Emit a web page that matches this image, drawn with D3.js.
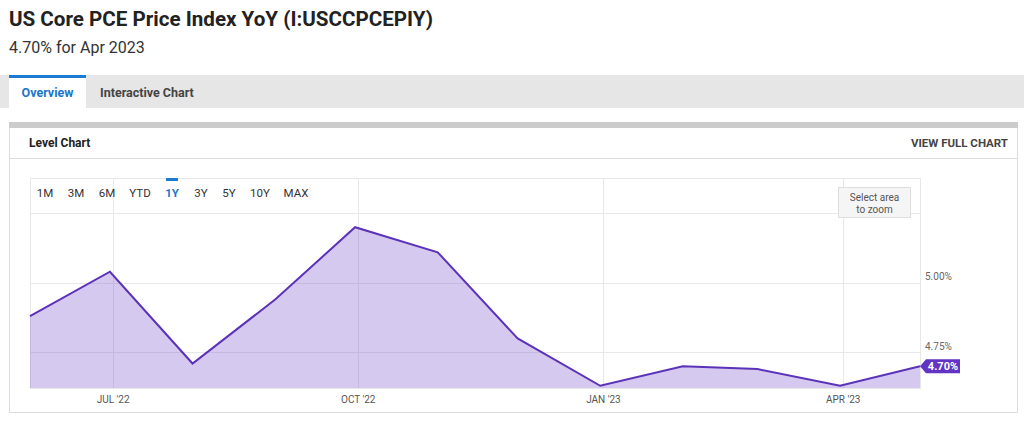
<!DOCTYPE html>
<meta charset="utf-8">
<script src="https://d3js.org/d3.v7.min.js"></script>
<style>
  body { margin: 0; background: #fff; }
  text { font-family: Roboto, "Noto Sans", sans-serif; }
</style>
<body>
<svg id="chart" width="1024" height="423"></svg>
<script>
// data: month-end observations, May 2022 - Apr 2023
var months = ["2022-05-31","2022-06-30","2022-07-31","2022-08-31","2022-09-30","2022-10-31",
              "2022-11-30","2022-12-31","2023-01-31","2023-02-28","2023-03-31","2023-04-30"];
var values = [4.88, 5.04, 4.71, 4.94, 5.20, 5.11, 4.80, 4.63, 4.70, 4.69, 4.63, 4.70];
var xTicks = ["2022-07-01","2022-10-01","2023-01-01","2023-04-01"];
var yTicks = [4.75, 5.00];
var yGrid = [4.75, 5.00, 5.25];
var ranges = ["1M","3M","6M","YTD","1Y","3Y","5Y","10Y","MAX"];

(function() {
var parse = d3.timeParse("%Y-%m-%d");
var data = months.map(function(m, i) { return {date: parse(m), value: values[i]}; });

var svg = d3.select("#chart");

// header
svg.append("text").attr("x", 9).attr("y", 26)
  .attr("font-size", 20.6).attr("font-weight", 700).attr("fill", "#222")
  .text("US Core PCE Price Index YoY (I:USCCPCEPIY)");
svg.append("text").attr("x", 9).attr("y", 53)
  .attr("font-size", 16).attr("fill", "#333")
  .text("4.70% for Apr 2023");

// tabs
svg.append("rect").attr("x", 0).attr("y", 75).attr("width", 1024).attr("height", 33).attr("fill", "#e6e6e6");
svg.append("rect").attr("x", 9).attr("y", 75).attr("width", 77).attr("height", 34).attr("fill", "#fff");
svg.append("rect").attr("x", 9).attr("y", 75).attr("width", 77).attr("height", 3).attr("fill", "#1b7bd0");
svg.append("text").attr("x", 47.5).attr("y", 97).attr("text-anchor", "middle")
  .attr("font-size", 12.5).attr("font-weight", 700).attr("fill", "#1b75c9").text("Overview");
svg.append("text").attr("x", 100).attr("y", 97)
  .attr("font-size", 12.5).attr("font-weight", 700).attr("fill", "#444").text("Interactive Chart");

// panel
svg.append("rect").attr("x", 9.5).attr("y", 124.5).attr("width", 1008).attr("height", 288)
  .attr("fill", "#fff").attr("stroke", "#dcdcdc");
svg.append("rect").attr("x", 9).attr("y", 122).attr("width", 1009).attr("height", 6).attr("fill", "#cccccc");
svg.append("text").attr("x", 29).attr("y", 147)
  .attr("font-size", 12).attr("font-weight", 700).attr("fill", "#222").text("Level Chart");
svg.append("text").attr("x", 1008).attr("y", 147).attr("text-anchor", "end")
  .attr("font-size", 11.5).attr("font-weight", 700).attr("fill", "#444").text("VIEW FULL CHART");
svg.append("line").attr("x1", 10).attr("x2", 1017).attr("y1", 158.5).attr("y2", 158.5).attr("stroke", "#dcdcdc");

// plot
var pLeft = 30, pRight = 920, pTop = 178, pBottom = 388;
var x = d3.scaleTime().domain(d3.extent(data, function(d) { return d.date; })).range([pLeft, pRight]);
var y = d3.scaleLinear().domain([4.622, 5.377]).range([pBottom, pTop]);

var g = svg.append("g");
g.append("rect").attr("x", pLeft + 0.5).attr("y", pTop + 0.5).attr("width", pRight - pLeft).attr("height", pBottom - pTop)
  .attr("fill", "none").attr("stroke", "#e8e8e8");

g.selectAll(".hgrid").data(yGrid).enter().append("line")
  .attr("x1", pLeft).attr("x2", pRight)
  .attr("y1", function(d) { return Math.round(y(d)) + 0.5; })
  .attr("y2", function(d) { return Math.round(y(d)) + 0.5; })
  .attr("stroke", "#e8e8e8");

g.selectAll(".vgrid").data(xTicks.map(parse)).enter().append("line")
  .attr("x1", function(d) { return Math.round(x(d)) + 0.5; })
  .attr("x2", function(d) { return Math.round(x(d)) + 0.5; })
  .attr("y1", pTop).attr("y2", pBottom)
  .attr("stroke", "#e8e8e8");

var area = d3.area().x(function(d) { return x(d.date); }).y0(pBottom).y1(function(d) { return y(d.value); });
var line = d3.line().x(function(d) { return x(d.date); }).y(function(d) { return y(d.value); });

g.append("path").datum(data).attr("d", area).attr("fill", "#7e57d0").attr("fill-opacity", 0.32);
g.append("path").datum(data).attr("d", line).attr("fill", "none")
  .attr("stroke", "#5b32b8").attr("stroke-width", 2).attr("stroke-linejoin", "miter");

// x axis
var fmt = function(d) { return d3.timeFormat("%b")(d).toUpperCase() + " '" + d3.timeFormat("%y")(d); };
var xAxis = g.append("g").attr("transform", "translate(0," + pBottom + ")")
  .call(d3.axisBottom(x).tickValues(xTicks.map(parse)).tickFormat(fmt).tickSize(0).tickPadding(8));
xAxis.select(".domain").remove();
xAxis.selectAll("text").attr("font-size", 10).attr("fill", "#555")
  .attr("font-family", "Roboto, sans-serif");

// y axis labels on right
var yAxis = g.append("g").attr("transform", "translate(" + (pRight + 5) + ",0)")
  .call(d3.axisRight(y).tickValues(yTicks).tickFormat(function(d) { return d3.format(".2f")(d) + "%"; }).tickSize(0).tickPadding(0));
yAxis.select(".domain").remove();
yAxis.selectAll("text").attr("font-size", 10).attr("fill", "#666").attr("dy", "-0.3em")
  .attr("font-family", "Roboto, sans-serif");

// last value flag
var last = data[data.length - 1];
var fx = x(last.date), fy = y(last.value);
g.append("path")
  .attr("d", "M" + fx + "," + fy + " L" + (fx + 6) + "," + (fy - 7) + " L960," + (fy - 7) +
             " L960," + (fy + 7) + " L" + (fx + 6) + "," + (fy + 7) + " Z")
  .attr("fill", "#6234c4");
g.append("text").attr("x", 943).attr("y", fy + 4).attr("text-anchor", "middle")
  .attr("font-size", 11).attr("font-weight", 700).attr("fill", "#fff")
  .text(d3.format(".2f")(last.value) + "%");

// range buttons
var rx = [45, 76, 107, 140, 172, 201, 229, 260, 296];
svg.selectAll(".rng").data(ranges).enter().append("text")
  .attr("x", function(d, i) { return rx[i]; }).attr("y", 197).attr("text-anchor", "middle")
  .attr("font-size", 11.5)
  .attr("font-weight", function(d) { return d === "1Y" ? 700 : 400; })
  .attr("fill", function(d) { return d === "1Y" ? "#1b75c9" : "#333"; })
  .text(function(d) { return d; });
svg.append("rect").attr("x", 166).attr("y", 178).attr("width", 12).attr("height", 3).attr("fill", "#1b7bd0");

// select area box
svg.append("rect").attr("x", 838.5).attr("y", 187.5).attr("width", 72).attr("height", 30)
  .attr("fill", "#f5f5f5").attr("stroke", "#dedede");
svg.append("text").attr("x", 874.5).attr("y", 201).attr("text-anchor", "middle")
  .attr("font-size", 10).attr("fill", "#555").text("Select area");
svg.append("text").attr("x", 874.5).attr("y", 213).attr("text-anchor", "middle")
  .attr("font-size", 10).attr("fill", "#555").text("to zoom");
})();
</script>
</body>
